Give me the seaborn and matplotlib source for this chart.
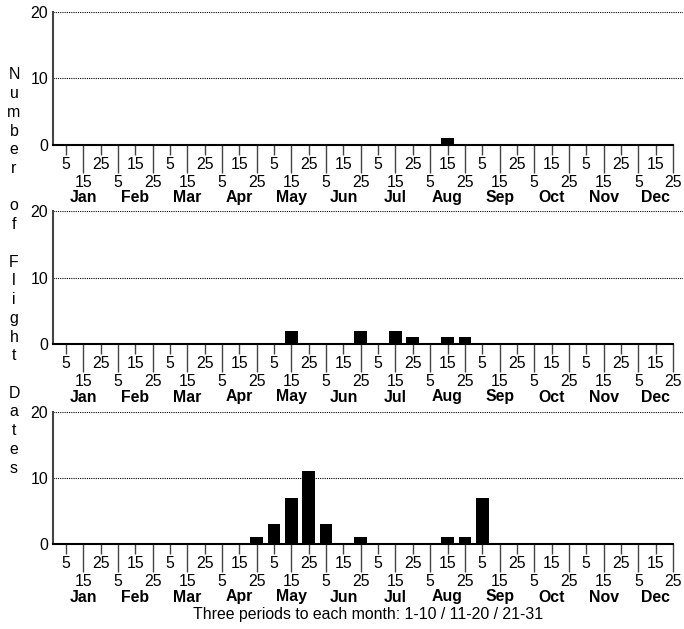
import numpy as np
import pandas as pd
import matplotlib.pyplot as plt
import matplotlib.transforms as mtransforms
import seaborn as sns

months = ["Jan", "Feb", "Mar", "Apr", "May", "Jun",
          "Jul", "Aug", "Sep", "Oct", "Nov", "Dec"]
period_days = ["5", "15", "25"]

# flight dates counted per 10-day period (36 periods), one row per panel
counts_top = [0, 0, 0, 0, 0, 0, 0, 0, 0, 0, 0, 0,
              0, 0, 0, 0, 0, 0, 0, 0, 0, 0, 1, 0,
              0, 0, 0, 0, 0, 0, 0, 0, 0, 0, 0, 0]
counts_mid = [0, 0, 0, 0, 0, 0, 0, 0, 0, 0, 0, 0,
              0, 2, 0, 0, 0, 2, 0, 2, 1, 0, 1, 1,
              0, 0, 0, 0, 0, 0, 0, 0, 0, 0, 0, 0]
counts_bot = [0, 0, 0, 0, 0, 0, 0, 0, 0, 0, 0, 1,
              3, 7, 11, 3, 0, 1, 0, 0, 0, 0, 1, 1,
              7, 0, 0, 0, 0, 0, 0, 0, 0, 0, 0, 0]

sns.set_style("white")
plt.rcParams["font.family"] = ["Liberation Sans", "DejaVu Sans"]
plt.rcParams["font.size"] = 11.4
plt.rcParams["text.color"] = "black"
plt.rcParams["xtick.labelcolor"] = "black"
plt.rcParams["ytick.labelcolor"] = "black"
fs = 11.4

period_labels = [d for m in months for d in period_days]
idx = np.arange(len(period_labels))

fig = plt.figure(figsize=(6.84, 6.29), dpi=100)

left, width = 53 / 684, 630 / 684
panel_rows = [(12, 145), (211, 344), (412, 544)]

for (top_px, bot_px), counts in zip(panel_rows, [counts_top, counts_mid, counts_bot]):
    bottom = 1 - bot_px / 629
    height = (bot_px - top_px) / 629
    ax = fig.add_axes([left, bottom, width, height])

    df = pd.DataFrame({"period": idx, "count": counts})
    sns.barplot(data=df, x="period", y="count", color="black",
                saturation=1, width=0.73, linewidth=0, ax=ax)

    ax.set_xlim(-0.75, 35.58)
    ax.set_ylim(0, 20)
    ax.set_yticks([0, 10, 20])
    ax.tick_params(axis="y", length=0, pad=3.5, labelsize=fs)
    for yv in [10, 20]:
        ax.axhline(yv, color="black", linestyle=(0, (1, 1)), linewidth=0.8, zorder=0)

    even = idx[::2]
    odd = idx[1::2]
    ax.set_xticks(even, [period_labels[i] for i in even])
    ax.set_xticks(odd, [period_labels[i] for i in odd], minor=True)
    ax.tick_params(axis="x", which="major", length=7.5, width=1, color="#444444",
                   pad=1.5, labelsize=fs, direction="out", bottom=True)
    ax.tick_params(axis="x", which="minor", length=20.5, width=1, color="#444444",
                   pad=1, labelsize=fs, direction="out", bottom=True)

    trans = mtransforms.blended_transform_factory(ax.transData, ax.transAxes)
    for m, name in enumerate(months):
        ax.text(3 * m + 1, -53 / (bot_px - top_px), name, transform=trans,
                ha="center", va="center", fontsize=fs, fontweight="bold")

    ax.set_xlabel("")
    ax.set_ylabel("")
    sns.despine(ax=ax, top=True, right=True)
    ax.spines["left"].set_color("#444444")
    ax.spines["left"].set_linewidth(1.5)
    ax.spines["bottom"].set_color("black")
    ax.spines["bottom"].set_linewidth(1.5)
    ax.spines["bottom"].set_bounds(-0.75, 35)

ylab = "\n".join("Number of Flight Dates")
fig.text(14 / 684, 1 - 271.5 / 629, ylab, ha="center", va="center",
         fontsize=fs, linespacing=1.31)

fig.text(368 / 684, 1 - 614 / 629,
         "Three periods to each month: 1-10 / 11-20 / 21-31",
         ha="center", va="center", fontsize=fs)

fig.savefig("out.png", dpi=100)
